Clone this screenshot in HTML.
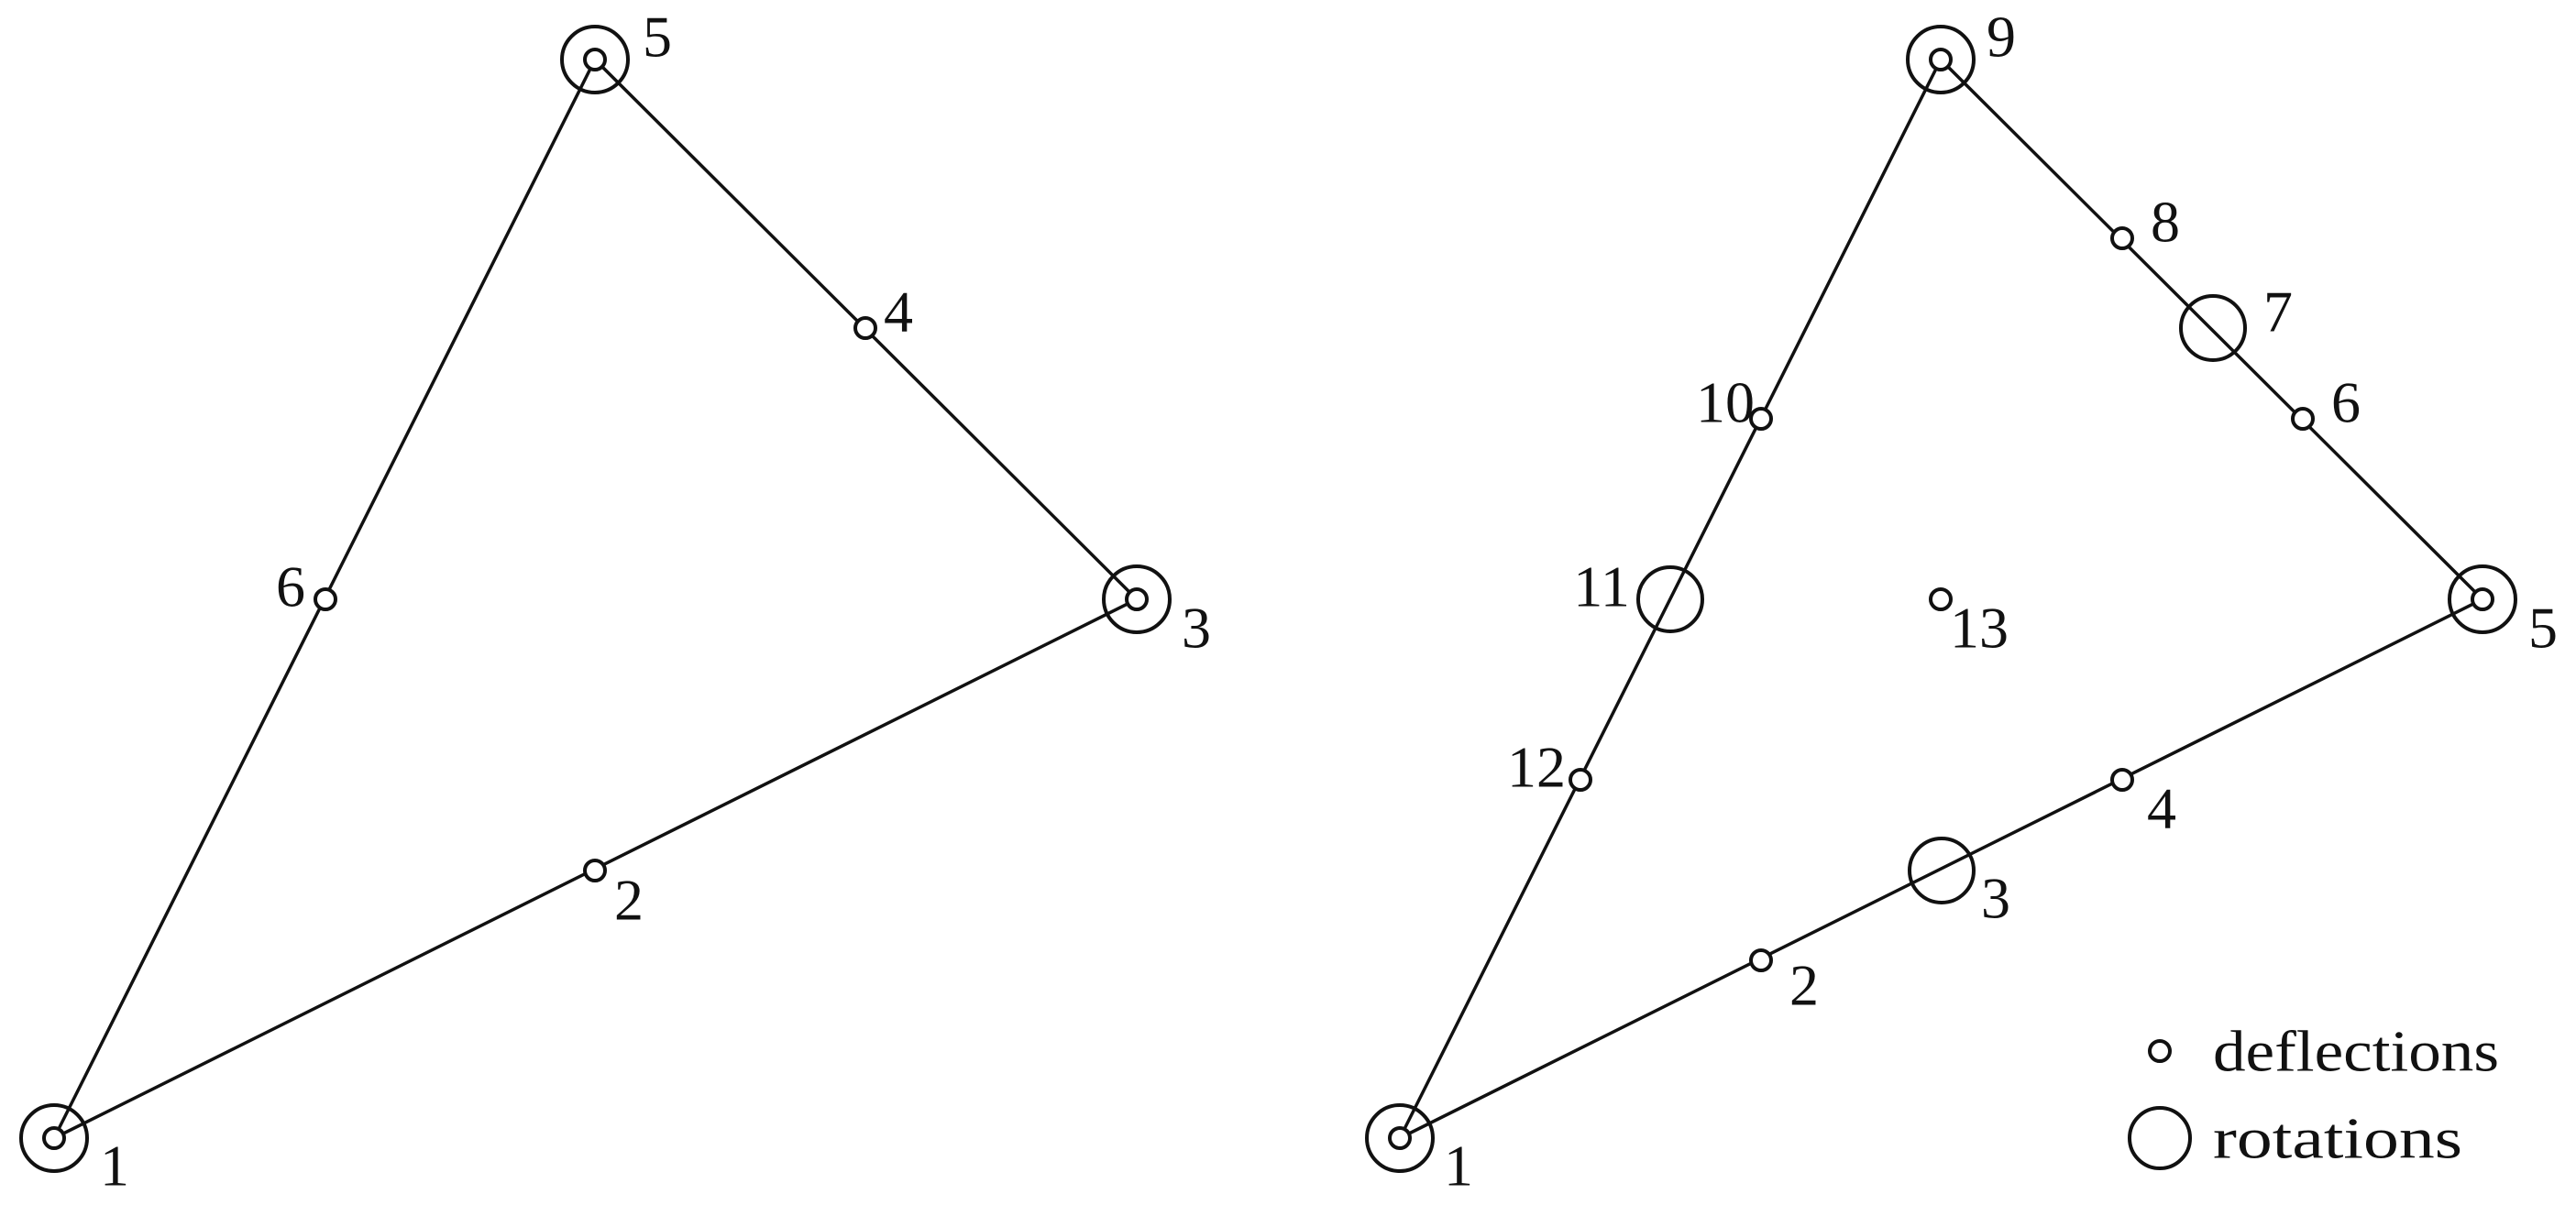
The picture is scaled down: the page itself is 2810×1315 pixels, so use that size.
<!DOCTYPE html>
<html><head><meta charset="utf-8"><style>html,body{margin:0;padding:0;background:#fff}</style></head>
<body>
<svg width="2810" height="1310" viewBox="0 0 2810 1310" xmlns="http://www.w3.org/2000/svg">
<g stroke="#111" fill="none" stroke-width="3.5">
<polyline points="59,1242 649,65 1240,654 59,1242"/>
<polyline points="1527,1242 2117,65 2708,654 1527,1242"/>
</g>
<g stroke="#111" fill="#fff" stroke-width="4">
<circle cx="59" cy="1242" r="36" fill="none"/><circle cx="59" cy="1242" r="11"/>
<circle cx="649" cy="65" r="36" fill="none"/><circle cx="649" cy="65" r="11"/>
<circle cx="1240" cy="654" r="36" fill="none"/><circle cx="1240" cy="654" r="11"/>
<circle cx="649" cy="950" r="11"/><circle cx="944" cy="358" r="11"/><circle cx="355" cy="654" r="11"/>

<circle cx="1527" cy="1242" r="36" fill="none"/><circle cx="1527" cy="1242" r="11"/>
<circle cx="2117" cy="65" r="36" fill="none"/><circle cx="2117" cy="65" r="11"/>
<circle cx="2708" cy="654" r="36" fill="none"/><circle cx="2708" cy="654" r="11"/>
<circle cx="2117" cy="654" r="11"/>
<circle cx="1921" cy="457" r="11"/><circle cx="1724" cy="851" r="11"/>
<circle cx="1921" cy="1048" r="11"/><circle cx="2315" cy="851" r="11"/>
<circle cx="2512" cy="457" r="11"/><circle cx="2315" cy="260" r="11"/>
<circle cx="1822" cy="654" r="35" fill="none"/>
<circle cx="2118" cy="950" r="35" fill="none"/>
<circle cx="2414" cy="358" r="35" fill="none"/>
<circle cx="2356" cy="1147" r="11"/>
<circle cx="2356" cy="1242" r="33" fill="none"/>
</g>
<g font-family="Liberation Serif, serif" font-size="64" fill="#111" text-anchor="middle" dominant-baseline="central">
<text x="717" y="40">5</text><text x="980" y="340">4</text><text x="317" y="640">6</text>
<text x="1305" y="685">3</text><text x="686" y="982">2</text><text x="125" y="1272">1</text>
<text x="2183" y="40">9</text><text x="2362" y="242">8</text><text x="2485" y="340">7</text>
<text x="2559" y="439">6</text><text x="2774" y="685">5</text><text x="2159" y="685">13</text>
<text x="1882" y="439">10</text><text x="1747" y="640">11</text><text x="1676" y="837">12</text>
<text x="2358" y="882">4</text><text x="2177" y="980">3</text><text x="1968" y="1075">2</text>
<text x="1591" y="1272">1</text>
</g>
<g font-family="Liberation Serif, serif" font-size="64" fill="#111" dominant-baseline="central">
<text x="2414" y="1147" textLength="312" lengthAdjust="spacingAndGlyphs">deflections</text>
<text x="2414" y="1242" textLength="272" lengthAdjust="spacingAndGlyphs">rotations</text>
</g>
</svg>
</body></html>
